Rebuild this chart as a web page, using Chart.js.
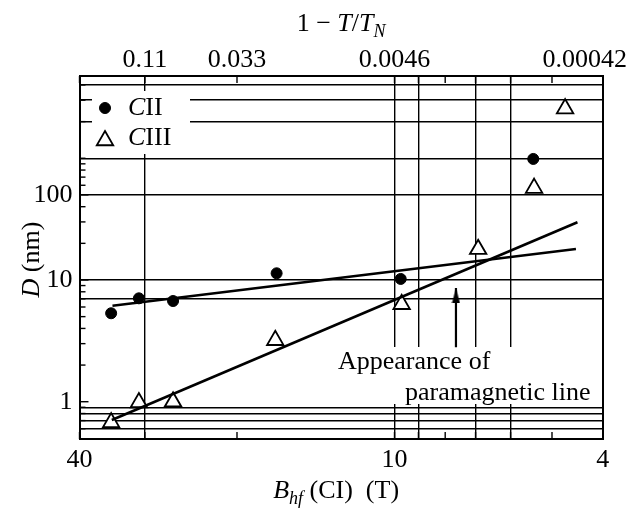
<!DOCTYPE html>
<html>
<head>
<meta charset="utf-8">
<script src="https://cdn.jsdelivr.net/npm/chart.js@4.4.0/dist/chart.umd.min.js"></script>
<style>
  html, body { margin: 0; padding: 0; background: #fff; }
  #wrap { width: 629px; height: 517px; }
</style>
</head>
<body>
<div id="wrap"><canvas id="chart" width="629" height="517"></canvas></div>
<script>
// values (B_hf in T, D in nm)
const ciiB = [34.8, 30.8, 26.5, 16.8, 9.73, 5.43];
const ciiD = [5.33, 7.07, 6.72, 11.35, 10.2, 98.7];
const ciiiB = [34.8, 30.8, 26.5, 16.9, 9.69, 6.92, 5.41, 4.72];
const ciiiD = [0.675, 0.985, 1.0, 3.2, 6.32, 17.9, 56.8, 256];

// straight fit lines, end points
const ciiFitB = [34.6, 4.5];
const ciiFitD = [6.15, 18.0];
const ciiiFitB = [34.7, 4.47];
const ciiiFitD = [0.707, 29.8];

// arrow "appearance of paramagnetic line"
const arrowB = [7.63, 7.63];
const arrowD = [2.8, 8.6];

// axes
const xTicks = [40, 30, 20, 10, 9, 8, 7, 6, 5, 4];
const xGrid = [30, 10, 9, 7, 6];
const xLabelAt = [40, 10, 4];
const xLabelText = ['40', '10', '4'];
const topTicks = [30, 20, 10, 4.33];
const topLabels = ['0.11', '0.033', '0.0046', '0.00042'];
const yTicks = [0.6, 0.7, 0.8, 0.9, 1, 2, 3, 4, 5, 6, 7, 8, 9,
                10, 20, 30, 40, 50, 60, 70, 80, 90, 100, 200, 300, 400];
const yGrid = [0.6, 0.7, 0.8, 0.9, 7, 10, 50, 100, 200, 300, 400];
const yLabelAt = [1, 10, 50];
const yLabelText = ['1', '10', '100'];

const black = '#000';
const serif = '"Liberation Serif", "DejaVu Serif", serif';

const pts = (xs, ys) => xs.map((x, i) => ({ x: x, y: ys[i] }));
const gridColor = list => c =>
    (c.tick && list.indexOf(c.tick.value) >= 0) ? black : 'rgba(0,0,0,0)';

// arrow head as an image; apex sits at the centre of the canvas
const head = document.createElement('canvas');
head.width = 9;
head.height = 30;
(function () {
    const h = head.getContext('2d');
    h.fillStyle = black;
    h.beginPath();
    h.moveTo(4.5, 15);
    h.lineTo(0.5, 30);
    h.lineTo(8.5, 30);
    h.closePath();
    h.fill();
})();

function drawRich(ctx, parts, x, y, align) {
    const fontOf = p => (p.italic ? 'italic ' : '') + (p.sub ? 18 : 26) + 'px ' + serif;
    let w = 0;
    parts.forEach(p => {
        ctx.font = fontOf(p);
        p.w = ctx.measureText(p.t).width;
        w += p.w;
    });
    let cx = align === 'center' ? x - w / 2 : x;
    parts.forEach(p => {
        ctx.font = fontOf(p);
        ctx.fillText(p.t, cx, y + (p.sub ? 6 : 0));
        cx += p.w;
    });
}

const overlay = {
    id: 'overlay',
    beforeDatasetsDraw(chart) {
        const ctx = chart.ctx;
        const a = chart.chartArea;
        const sx = chart.scales.x;
        const sy = chart.scales.y;
        ctx.save();
        ctx.strokeStyle = black;
        ctx.lineWidth = 1.4;
        const seg = (x1, y1, x2, y2) => {
            ctx.beginPath();
            ctx.moveTo(x1, y1);
            ctx.lineTo(x2, y2);
            ctx.stroke();
        };
        // inward tick marks
        xTicks.forEach(v => {
            const px = sx.getPixelForValue(v);
            seg(px, a.bottom, px, a.bottom - 7);
            seg(px, a.top, px, a.top + 7);
        });
        yTicks.forEach(v => {
            const py = sy.getPixelForValue(v);
            const len = yLabelAt.indexOf(v) >= 0 ? 9 : 6;
            seg(a.left, py, a.left + len, py);
        });
        // white boxes behind legend and note
        ctx.fillStyle = '#fff';
        ctx.fillRect(a.left + 12.5, a.top + 15, 98, 63);
        ctx.fillRect(a.left + 255.5, a.top + 271, 262, 57);
        ctx.restore();
    },
    afterDatasetsDraw(chart) {
        const ctx = chart.ctx;
        const a = chart.chartArea;
        ctx.save();
        ctx.fillStyle = black;
        ctx.strokeStyle = black;

        // legend
        Chart.helpers.drawPoint(ctx, { pointStyle: 'circle', radius: 5.5, borderWidth: 1 },
            a.left + 25.5, a.top + 32);
        ctx.fillStyle = '#fff';
        ctx.lineWidth = 1.8;
        Chart.helpers.drawPoint(ctx, { pointStyle: 'triangle', radius: 9.5, borderWidth: 1.8 },
            a.left + 25.5, a.top + 64.5);
        ctx.fillStyle = black;
        ctx.textBaseline = 'middle';
        drawRich(ctx, [{ t: 'C', italic: true }, { t: 'II' }], a.left + 48.5, a.top + 32, 'left');
        drawRich(ctx, [{ t: 'C', italic: true }, { t: 'III' }], a.left + 48.5, a.top + 62, 'left');

        // note
        ctx.textBaseline = 'alphabetic';
        drawRich(ctx, [{ t: 'Appearance of' }], a.left + 258.5, a.top + 293, 'left');
        drawRich(ctx, [{ t: 'paramagnetic line' }], a.left + 325.5, a.top + 324, 'left');

        // axis titles
        const mid = (a.left + a.right) / 2;
        drawRich(ctx, [{ t: '1 \u2212 ' }, { t: 'T', italic: true }, { t: '/' },
                       { t: 'T', italic: true }, { t: 'N', italic: true, sub: true }],
            mid, 31, 'center');
        drawRich(ctx, [{ t: 'B', italic: true }, { t: 'hf', italic: true, sub: true },
                       { t: ' (CI)  (T)' }],
            mid - 5, 498, 'center');
        ctx.translate(39, (a.top + a.bottom) / 2 + 2);
        ctx.rotate(-Math.PI / 2);
        drawRich(ctx, [{ t: 'D', italic: true }, { t: ' (nm)' }], 0, 0, 'center');
        ctx.restore();
    }
};

const tickFont = { family: serif, size: 26 };

new Chart(document.getElementById('chart'), {
    type: 'scatter',
    data: {
        datasets: [
            {
                label: 'CII fit',
                data: pts(ciiFitB, ciiFitD),
                showLine: true,
                borderColor: black,
                borderWidth: 2.6,
                pointRadius: 0
            },
            {
                label: 'CIII fit',
                data: pts(ciiiFitB, ciiiFitD),
                showLine: true,
                borderColor: black,
                borderWidth: 2.6,
                pointRadius: 0
            },
            {
                label: 'arrow',
                data: pts(arrowB, arrowD),
                showLine: true,
                borderColor: black,
                borderWidth: 2.2,
                pointRadius: [0, 5],
                pointStyle: ['circle', head]
            },
            {
                label: 'CII',
                data: pts(ciiB, ciiD),
                pointStyle: 'circle',
                pointRadius: 5.5,
                backgroundColor: black,
                borderColor: black,
                borderWidth: 1
            },
            {
                label: 'CIII',
                data: pts(ciiiB, ciiiD),
                pointStyle: 'triangle',
                pointRadius: 9.5,
                backgroundColor: '#fff',
                borderColor: black,
                borderWidth: 1.8
            }
        ]
    },
    options: {
        responsive: false,
        animation: false,
        layout: { padding: 0 },
        plugins: {
            legend: { display: false },
            tooltip: { enabled: false }
        },
        scales: {
            x: {
                type: 'logarithmic',
                position: 'bottom',
                reverse: true,
                min: 4,
                max: 40,
                afterBuildTicks: s => { s.ticks = xTicks.map(v => ({ value: v })); },
                afterFit: s => { s.height = 78; },
                ticks: {
                    autoSkip: false,
                    maxRotation: 0,
                    minRotation: 0,
                    padding: 6,
                    color: black,
                    font: tickFont,
                    callback: v => {
                        const i = xLabelAt.indexOf(v);
                        return i >= 0 ? xLabelText[i] : '';
                    }
                },
                grid: { color: gridColor(xGrid), lineWidth: 1.4, drawTicks: false },
                border: { display: true, color: black, width: 2 }
            },
            x2: {
                type: 'logarithmic',
                position: 'top',
                reverse: true,
                min: 4,
                max: 40,
                afterBuildTicks: s => { s.ticks = topTicks.map(v => ({ value: v })); },
                afterFit: s => { s.height = 76; },
                ticks: {
                    autoSkip: false,
                    maxRotation: 0,
                    minRotation: 0,
                    padding: 0,
                    color: black,
                    font: tickFont,
                    callback: (v, i) => topLabels[i]
                },
                grid: { drawOnChartArea: false, drawTicks: false },
                border: { display: true, color: black, width: 2 }
            },
            y: {
                type: 'logarithmic',
                position: 'left',
                min: 0.494,
                max: 474,
                afterBuildTicks: s => { s.ticks = yTicks.map(v => ({ value: v })); },
                afterFit: s => { s.width = 79.5; },
                ticks: {
                    autoSkip: false,
                    padding: 7,
                    color: black,
                    font: tickFont,
                    callback: v => {
                        const i = yLabelAt.indexOf(v);
                        return i >= 0 ? yLabelText[i] : '';
                    }
                },
                grid: { color: gridColor(yGrid), lineWidth: 1.4, drawTicks: false },
                border: { display: true, color: black, width: 2 }
            },
            y2: {
                type: 'linear',
                position: 'right',
                min: 0,
                max: 1,
                afterFit: s => { s.width = 26.3; },
                ticks: { display: false },
                grid: { drawOnChartArea: false, drawTicks: false },
                border: { display: true, color: black, width: 2 }
            }
        }
    },
    plugins: [overlay]
});
</script>
</body>
</html>
